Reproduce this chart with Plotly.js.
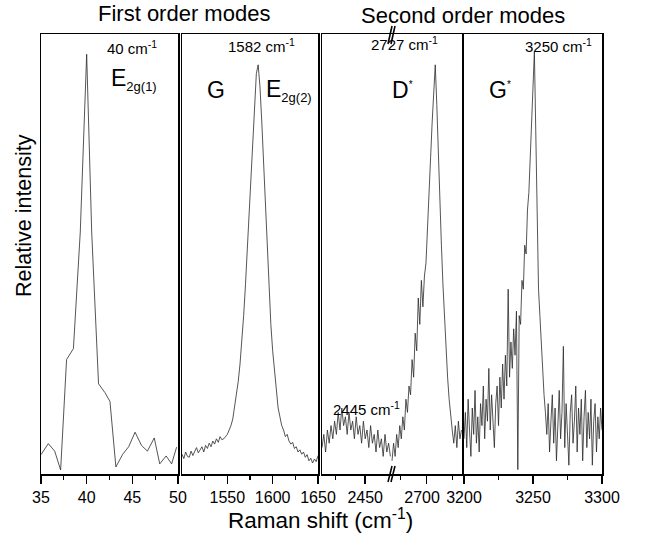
<!DOCTYPE html>
<html>
<head>
<meta charset="utf-8">
<script src="https://cdn.plot.ly/plotly-3.0.1.min.js"></script>
<style>html,body{margin:0;padding:0;background:#fff;}#chart{width:648px;height:535px;}</style>
</head>
<body>
<div id="chart"></div>
<script>
// ---- Panel 1: first order, E2g(1) mode ----
const p1X = [35.0, 35.8, 36.5, 37.15, 37.8, 38.55, 39.3, 40.0, 40.55, 41.3, 42.0, 42.55, 43.2, 43.95, 44.6, 45.3, 46.0, 46.65, 47.4, 48.0, 48.7, 49.3, 49.85];
const p1Y = [0.044, 0.069, 0.052, 0.009, 0.26, 0.285, 0.55, 0.954, 0.55, 0.205, 0.185, 0.165, 0.016, 0.045, 0.062, 0.095, 0.065, 0.052, 0.082, 0.023, 0.041, 0.023, 0.061];

// ---- Panel 2: G (E2g(2)) mode ----
const p2X = [1500,1502,1504,1506,1508,1510,1512,1514,1516,1518,1520,1522,1524,1526,1528,1530,1532,1534,1536,1538,1540,1542,1544,1546,1548,1550,1552,1554,1556,1558,1560,1562,1564,1566,1568,1570,1572,1574,1576,1578,1580,1582,1584,1586,1588,1590,1592,1594,1596,1598,1600,1602,1604,1606,1608,1610,1612,1614,1616,1618,1620,1622,1624,1626,1628,1630,1632,1634,1636,1638,1640,1642,1644,1646,1648,1650];
const p2Y = [0.045,0.035,0.05,0.04,0.038,0.052,0.042,0.05,0.06,0.048,0.055,0.062,0.05,0.065,0.058,0.07,0.062,0.075,0.068,0.08,0.072,0.085,0.078,0.08,0.085,0.09,0.1,0.11,0.125,0.15,0.18,0.21,0.25,0.3,0.36,0.43,0.51,0.6,0.69,0.78,0.86,0.91,0.93,0.88,0.8,0.7,0.6,0.5,0.41,0.34,0.28,0.23,0.19,0.15,0.13,0.11,0.1,0.085,0.09,0.075,0.068,0.072,0.058,0.062,0.05,0.055,0.045,0.05,0.038,0.044,0.03,0.036,0.025,0.034,0.028,0.042];

// ---- Panel 3 (before the axis break): 2445 band ----
const p3aX = [2378,2381,2384,2387,2390,2393,2396,2399,2402,2405,2408,2411,2414,2417,2420,2423,2426,2429,2432,2435,2438,2441,2444,2447,2450,2453,2456,2459,2462,2465,2468,2471,2474,2477,2480,2483,2486,2489,2492];
const p3aY = [0.06,0.09,0.05,0.1,0.07,0.11,0.08,0.12,0.09,0.14,0.1,0.15,0.11,0.13,0.09,0.14,0.1,0.12,0.08,0.13,0.09,0.11,0.07,0.12,0.08,0.1,0.06,0.11,0.07,0.09,0.05,0.1,0.06,0.08,0.04,0.09,0.05,0.07,0.04];

// ---- Panel 3 (after the axis break): D* mode ----
const p3bX = [2633,2636,2639,2642,2645,2648,2651,2654,2657,2660,2663,2666,2669,2672,2675,2678,2681,2684,2687,2690,2693,2696,2699,2702,2705,2708,2711,2714,2717,2720,2723,2726,2729,2732,2735,2738,2741,2744,2747,2750,2753,2756,2759,2762,2765,2768];
const p3bY = [0.03,0.07,0.04,0.09,0.06,0.11,0.08,0.13,0.1,0.17,0.14,0.2,0.18,0.26,0.22,0.32,0.28,0.4,0.34,0.44,0.38,0.45,0.48,0.55,0.64,0.72,0.8,0.88,0.93,0.84,0.72,0.62,0.52,0.43,0.35,0.28,0.22,0.17,0.13,0.1,0.07,0.11,0.06,0.12,0.08,0.1];

// ---- Panel 4: G* mode ----
const p4X = [3200,3201,3202,3203,3204,3205,3206,3207,3208,3209,3210,3211,3212,3213,3214,3215,3216,3217,3218,3219,3220,3221,3222,3223,3224,3225,3226,3227,3228,3229,3230,3231,3232,3233,3234,3235,3236,3237,3238,3239,3240,3241,3242,3243,3244,3245,3246,3247,3248,3249,3250,3251,3252,3253,3254,3255,3256,3257,3258,3259,3260,3261,3262,3263,3264,3265,3266,3267,3268,3269,3270,3271,3272,3273,3274,3275,3276,3277,3278,3279,3280,3281,3282,3283,3284,3285,3286,3287,3288,3289,3290,3291,3292,3293,3294,3295,3296,3297,3298,3299,3300];
const p4Y = [0.08,0.14,0.06,0.17,0.1,0.04,0.15,0.09,0.19,0.07,0.13,0.05,0.16,0.11,0.2,0.08,0.17,0.12,0.24,0.1,0.18,0.13,0.06,0.16,0.2,0.11,0.22,0.15,0.25,0.17,0.27,0.2,0.42,0.22,0.3,0.24,0.33,0.27,0.37,0.01,0.36,0.34,0.44,0.42,0.52,0.5,0.6,0.64,0.72,0.8,0.85,0.96,0.78,0.55,0.42,0.36,0.3,0.22,0.18,0.14,0.09,0.16,0.05,0.12,0.18,0.07,0.15,0.03,0.13,0.19,0.08,0.14,0.29,0.06,0.16,0.1,0.02,0.14,0.18,0.07,0.12,0.2,0.05,0.15,0.09,0.17,0.03,0.13,0.19,0.06,0.14,0.08,0.17,0.02,0.12,0.16,0.05,0.13,0.08,0.15,0.1];

// tick labels
const p1Ticks = [35, 40, 45, 50];
const p2Ticks = [1550, 1600, 1650];
const p3aTicks = [2450];
const p3bTicks = [2700];
const p4Ticks = [3200, 3250, 3300];

// ---- layout helpers (pixel -> paper) ----
const L = 41, R = 602, T = 34, B = 474;
const W = R - L, H = B - T;
const px = p => (p - L) / W;
const py = p => (B - p) / H;
const FONT = "Liberation Sans, Arial, sans-serif";
const lineStyle = {color: '#2a2a2a', width: 0.8};

const traces = [
  {x: p1X, y: p1Y, xaxis: 'x', yaxis: 'y'},
  {x: p2X, y: p2Y, xaxis: 'x2', yaxis: 'y2'},
  {x: p3aX, y: p3aY, xaxis: 'x3', yaxis: 'y3'},
  {x: p3bX, y: p3bY, xaxis: 'x4', yaxis: 'y4'},
  {x: p4X, y: p4Y, xaxis: 'x5', yaxis: 'y5'}
].map(t => Object.assign(t, {type: 'scatter', mode: 'lines', line: lineStyle, showlegend: false, hoverinfo: 'skip'}));

function xa(domain, range, ticks, minorTicks, mirror, labels) {
  return {
    domain: domain, range: range, showline: true, linecolor: '#000', linewidth: 1.5,
    mirror: mirror, ticks: 'outside', ticklen: 8, tickwidth: 1.5, tickcolor: '#000',
    tickmode: 'array', tickvals: ticks, ticktext: labels || ticks.map(String),
    minor: {tickmode: 'array', tickvals: minorTicks, ticks: 'outside', ticklen: 4, tickwidth: 1.3, tickcolor: '#000', showgrid: false},
    showgrid: false, zeroline: false, fixedrange: true,
    tickfont: {family: FONT, size: 16, color: '#000'}
  };
}
function ya(anchor, mirror, side) {
  return {
    anchor: anchor, domain: [0, 1], range: [0, 1], showline: true, linecolor: '#000', linewidth: 1.5,
    mirror: mirror, side: side || 'left', ticks: '', showticklabels: false,
    showgrid: false, zeroline: false, fixedrange: true
  };
}

const d1 = [px(41), px(178)];
const d2 = [px(182), px(318)];
const d3a = [px(322), px(391)];
const d3b = [px(391), px(462)];
const d4 = [px(464), 1];

function ann(text, x, y, size, opts) {
  return Object.assign({
    text: text, x: px(x), y: py(y), xref: 'paper', yref: 'paper', showarrow: false,
    xanchor: 'center', yanchor: 'middle', font: {family: FONT, size: size, color: '#000'}
  }, opts || {});
}
const sub = s => '<sub><span style="font-size:13px">' + s + '</span></sub>';
const star = '<sup><span style="font-size:10px">*</span></sup>';

const annotations = [
  ann('First order modes', 184, 13, 22),
  ann('Second order modes', 463, 16, 22),
  ann('40 cm<sup>-1</sup>', 132, 47, 15),
  ann('E' + sub('2g(1)'), 109, 80, 23, {xanchor: 'left'}),
  ann('1582 cm<sup>-1</sup>', 261, 46, 15),
  ann('G', 216, 90, 23),
  ann('E' + sub('2g(2)'), 264, 90, 23, {xanchor: 'left'}),
  ann('2727 cm<sup>-1</sup>', 404, 44, 15),
  ann('D' + star, 390, 90, 23, {xanchor: 'left'}),
  ann('2445 cm<sup>-1</sup>', 366, 408, 15),
  ann('G' + star, 487, 90, 23, {xanchor: 'left'}),
  ann('3250 cm<sup>-1</sup>', 558, 46, 15),
  ann('Raman shift (cm<sup>-1</sup>)', 320, 519, 22.5),
  ann('Relative intensity', 24, 216, 21.5, {textangle: -90})
];

function brk(x0, y0, x1, y1) {
  return {type: 'line', xref: 'paper', yref: 'paper', x0: px(x0), y0: py(y0), x1: px(x1), y1: py(y1), line: {color: '#000', width: 1.6}};
}
const shapes = [
  brk(388, 44, 392, 26), brk(391, 44, 395, 26),
  brk(388, 482, 392, 466), brk(391, 482, 395, 466)
];

const layout = {
  width: 648, height: 535,
  margin: {l: L, r: 648 - R, t: T, b: 535 - B, pad: 0},
  paper_bgcolor: '#fff', plot_bgcolor: '#fff',
  font: {family: FONT, color: '#000'},
  xaxis: xa(d1, [35, 50], p1Ticks, [37.5, 42.5, 47.5], true),
  yaxis: ya('x', true),
  xaxis2: xa(d2, [1500, 1650], p2Ticks, [1525, 1575, 1625], true),
  yaxis2: ya('x2', true),
  xaxis3: xa(d3a, [2378, 2493], p3aTicks, [2400], true),
  yaxis3: ya('x3', false, 'left'),
  xaxis4: xa(d3b, [2631, 2769], p3bTicks, [2650, 2750], true, ['2700\u00a0\u00a0']),
  yaxis4: ya('x4', false, 'right'),
  xaxis5: xa(d4, [3200, 3300], p4Ticks, [3225, 3275], true),
  yaxis5: ya('x5', true),
  annotations: annotations,
  shapes: shapes
};

Plotly.newPlot('chart', traces, layout, {staticPlot: true, displayModeBar: false});
</script>
</body>
</html>
